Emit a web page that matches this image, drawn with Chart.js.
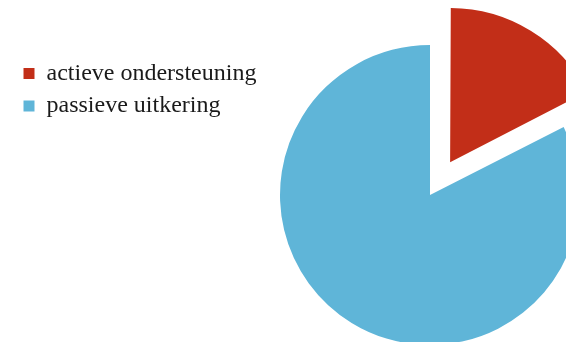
<!DOCTYPE html>
<html>
<head>
<meta charset="utf-8">
<script src="https://cdn.jsdelivr.net/npm/chart.js@4/dist/chart.umd.min.js"></script>
<style>
html,body{margin:0;padding:0;background:#fff;overflow:hidden;width:566px;height:342px;}
#wrap{position:absolute;left:0;top:0;width:860px;height:350px;}
</style>
</head>
<body>
<div id="wrap"><canvas id="c" width="860" height="350"></canvas></div>
<script>
const categories = ['actieve ondersteuning', 'passieve uitkering'];
const values = [17.5, 82.5];
const colors = ['#c22e18', '#5fb5d8'];
const offsets = [154, 0];

new Chart(document.getElementById('c'), {
  type: 'pie',
  data: {
    labels: categories,
    datasets: [{
      data: values,
      backgroundColor: colors,
      borderWidth: 0,
      offset: offsets
    }]
  },
  options: {
    responsive: false,
    animation: false,
    radius: 150,
    layout: { padding: { left: 15, top: 51.5, right: 15, bottom: 11.5 } },
    plugins: {
      tooltip: { enabled: false },
      legend: {
        position: 'chartArea',
        align: 'start',
        title: { display: true, text: ' ', padding: { top: 38.6, bottom: 0 } },
        labels: {
          boxWidth: 11,
          boxHeight: 11,
          padding: 8.5,
          color: '#1a1a1a',
          font: { family: '"Liberation Serif", serif', size: 24 }
        }
      }
    }
  }
});
</script>
</body>
</html>
